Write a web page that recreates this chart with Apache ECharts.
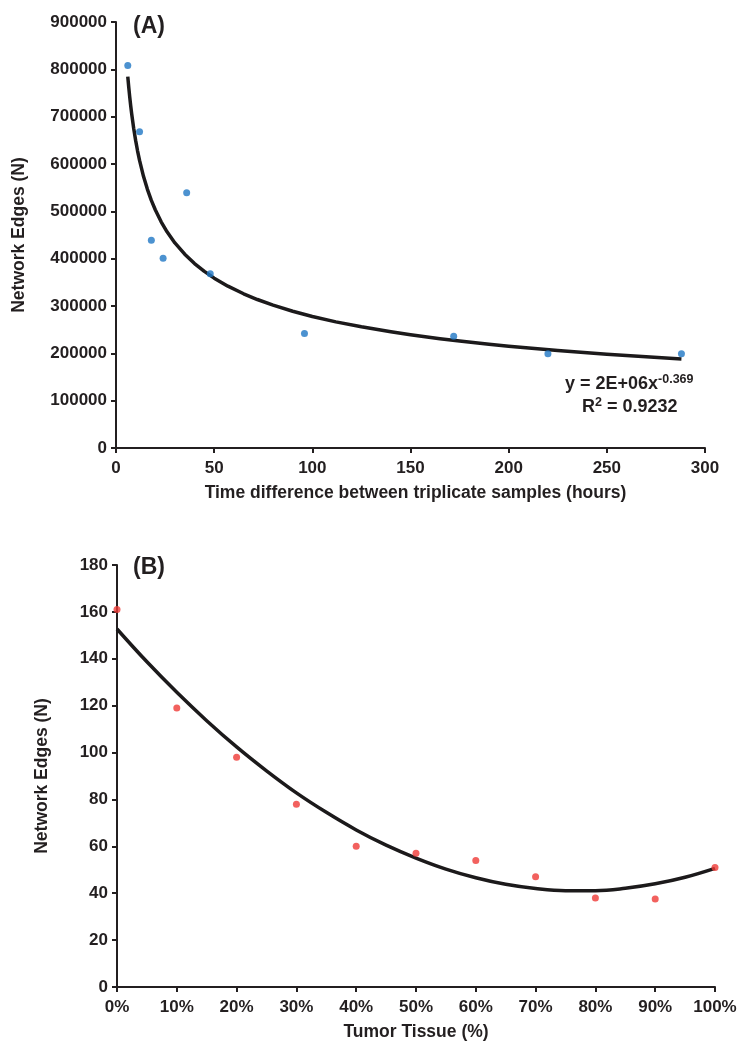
<!DOCTYPE html>
<html>
<head>
<meta charset="utf-8">
<script src="https://cdn.jsdelivr.net/npm/echarts@6/dist/echarts.min.js"></script>
<style>
html,body{margin:0;padding:0;background:#fff;}
#chart{width:751px;height:1050px;}
</style>
</head>
<body>
<div id="chart"></div>
<script>
// Panel A data
const timeHours = [6, 12, 18, 24, 36, 48, 96, 172, 220, 288];
const edgesA = [808000, 668000, 439000, 401000, 539000, 368000, 242000, 236000, 199000, 199000];
// Power trendline A
const trendAx = [6, 6.5, 7, 7.5, 8, 9, 10, 11, 12, 14, 16, 18, 20, 23, 26, 30, 35, 40, 45, 50, 57, 65, 72, 80, 90, 100, 112, 125, 140, 150, 165, 175, 190, 200, 225, 250, 270, 288];
const trendAy = [784700, 761900, 741400, 722600, 705700, 675600, 649900, 627400, 607500, 574000, 546400, 523100, 503300, 477900, 456800, 433300, 409400, 389600, 373100, 358800, 341900, 325800, 313700, 301700, 288900, 277900, 266500, 256000, 245400, 239200, 231000, 226000, 219300, 215200, 206000, 198100, 192600, 188100];
const xTicksA = [0, 50, 100, 150, 200, 250, 300];
const yTicksA = [0, 100000, 200000, 300000, 400000, 500000, 600000, 700000, 800000, 900000];

// Panel B data
const tumorPct = [0, 10, 20, 30, 40, 50, 60, 70, 80, 90, 100];
const edgesB = [161, 119, 98, 78, 60, 57, 54, 47, 38, 37.5, 51];
// Polynomial trendline B
const trendBx = [0, 5, 10, 15, 20, 25, 30, 35, 40, 45, 50, 55, 60, 65, 70, 75, 80, 85, 90, 95, 100];
const trendBy = [152.7, 138.7, 125.7, 113.6, 102.4, 92.2, 82.8, 74.5, 67.0, 60.5, 55.0, 50.3, 46.6, 43.8, 42.0, 41.1, 41.1, 42.1, 44.0, 46.8, 50.6];
const xTicksB = [0, 10, 20, 30, 40, 50, 60, 70, 80, 90, 100];
const yTicksB = [0, 20, 40, 60, 80, 100, 120, 140, 160, 180];

const FONT = '"Liberation Sans", Arial, Helvetica, sans-serif';
const INK = '#231f20';

function lbl(margin, formatter) {
  const o = { color: INK, fontFamily: FONT, fontWeight: 'bold', fontSize: 17, margin: margin };
  if (formatter) o.formatter = formatter;
  return o;
}
function axisCommon(extra) {
  return Object.assign({
    axisLine: { show: true, onZero: false, lineStyle: { color: INK, width: 2 } },
    axisTick: { show: true, inside: false, length: 5, lineStyle: { color: INK, width: 2 } },
    splitLine: { show: false },
    nameTextStyle: { color: INK, fontFamily: FONT, fontWeight: 'bold', fontSize: 17.5 },
    nameLocation: 'middle'
  }, extra);
}

const chart = echarts.init(document.getElementById('chart'), null, { renderer: 'canvas' });
chart.setOption({
  backgroundColor: '#ffffff',
  animation: false,
  grid: [
    { left: 116, top: 22, width: 589, height: 426 },
    { left: 117, top: 565, width: 598, height: 422 }
  ],
  xAxis: [
    axisCommon({
      gridIndex: 0, type: 'value', min: xTicksA[0], max: xTicksA[xTicksA.length - 1], interval: 50,
      name: 'Time difference between triplicate samples (hours)', nameGap: 36,
      nameTextStyle: { color: INK, fontFamily: FONT, fontWeight: 'bold', fontSize: 17.5, padding: [0, 0, 0, 10] },
      axisLabel: lbl(12)
    }),
    axisCommon({
      gridIndex: 1, type: 'value', min: xTicksB[0], max: xTicksB[xTicksB.length - 1], interval: 10,
      name: 'Tumor Tissue (%)', nameGap: 36,
      axisLabel: lbl(12, v => v + '%')
    })
  ],
  yAxis: [
    axisCommon({
      gridIndex: 0, type: 'value', min: yTicksA[0], max: yTicksA[yTicksA.length - 1], interval: 100000,
      name: 'Network Edges (N)', nameGap: 88,
      axisLabel: lbl(9, v => String(v))
    }),
    axisCommon({
      gridIndex: 1, type: 'value', min: yTicksB[0], max: yTicksB[yTicksB.length - 1], interval: 20,
      name: 'Network Edges (N)', nameGap: 66,
      axisLabel: lbl(9, v => String(v))
    })
  ],
  series: [
    {
      type: 'line', xAxisIndex: 0, yAxisIndex: 0,
      data: trendAx.map((x, i) => [x, trendAy[i]]),
      smooth: false, showSymbol: false, symbol: 'none',
      lineStyle: { color: '#1c1a1b', width: 3.5, join: 'round' }, z: 2
    },
    {
      type: 'scatter', xAxisIndex: 0, yAxisIndex: 0,
      data: timeHours.map((x, i) => [x, edgesA[i]]),
      symbolSize: 7, itemStyle: { color: '#1f77c4' }, z: 3
    },
    {
      type: 'line', xAxisIndex: 1, yAxisIndex: 1,
      data: trendBx.map((x, i) => [x, trendBy[i]]),
      smooth: 0.4, showSymbol: false, symbol: 'none',
      lineStyle: { color: '#1c1a1b', width: 3.5 }, z: 2
    },
    {
      type: 'scatter', xAxisIndex: 1, yAxisIndex: 1,
      data: tumorPct.map((x, i) => [x, edgesB[i]]),
      symbolSize: 7, itemStyle: { color: '#ef3a36' }, z: 3
    }
  ],
  graphic: [
    { type: 'text', left: 133, top: 15, style: { text: '(A)', fill: INK, font: 'bold 23px ' + FONT } },
    { type: 'text', left: 133, top: 556, style: { text: '(B)', fill: INK, font: 'bold 23px ' + FONT } },
    {
      type: 'text', left: 565, top: 373,
      style: {
        text: '{a|y = 2E+06x}{s|-0.369}',
        rich: {
          a: { fill: INK, fontFamily: FONT, fontWeight: 'bold', fontSize: 18 },
          s: { fill: INK, fontFamily: FONT, fontWeight: 'bold', fontSize: 12.5, padding: [0, 0, 9, 0] }
        }
      }
    },
    {
      type: 'text', left: 582, top: 396,
      style: {
        text: '{a|R}{s|2}{a| = 0.9232}',
        rich: {
          a: { fill: INK, fontFamily: FONT, fontWeight: 'bold', fontSize: 18 },
          s: { fill: INK, fontFamily: FONT, fontWeight: 'bold', fontSize: 12.5, padding: [0, 0, 9, 0] }
        }
      }
    }
  ]
});
</script>
</body>
</html>
